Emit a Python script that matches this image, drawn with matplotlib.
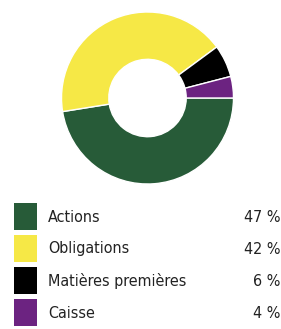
import matplotlib.pyplot as plt
from matplotlib.patches import Rectangle

labels = ["Actions", "Obligations", "Matières premières", "Caisse"]
values = [47, 42, 6, 4]
colors = ["#275b38", "#f6e846", "#000000", "#6c2381"]

W, H = 281, 329
fig = plt.figure(figsize=(W / 100, H / 100), dpi=100)

# donut
cx, cy, r = 147.5, 98, 86
ax = fig.add_axes([(cx - r) / W, 1 - (cy + r) / H, 2 * r / W, 2 * r / H])
ax.pie(values, colors=colors, startangle=0, counterclock=False,
       wedgeprops=dict(width=0.55, edgecolor="white", linewidth=1))
ax.set_xlim(-1, 1)
ax.set_ylim(-1, 1)
ax.set_aspect("equal")
ax.axis("off")

# legend
lg = fig.add_axes([0, 0, 1, 1])
lg.set_xlim(0, W)
lg.set_ylim(H, 0)
lg.axis("off")
font = dict(fontsize=11.5, family="DejaVu Sans", fontstretch="condensed", color="#222222")
y0, step = 203, 32
for i, (lab, val, col) in enumerate(zip(labels, values, colors)):
    y = y0 + i * step
    lg.add_patch(Rectangle((14, y), 23, 27, facecolor=col, edgecolor="none"))
    lg.text(48, y + 14, lab, va="center", ha="left", **font)
    lg.text(280, y + 14, f"{val} %", va="center", ha="right", **font)

fig.savefig("out.png", dpi=100)
